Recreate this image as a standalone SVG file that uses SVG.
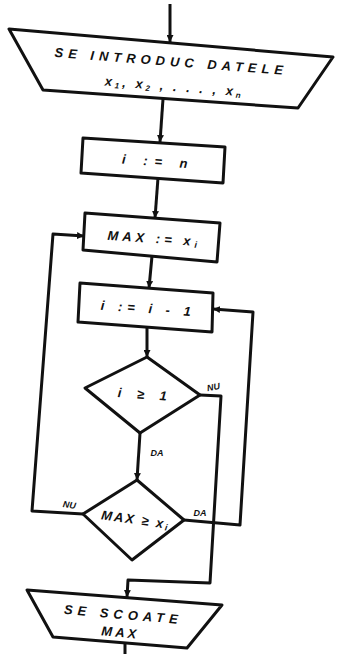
<svg xmlns="http://www.w3.org/2000/svg" width="337" height="654" viewBox="0 0 337 654">
<defs>
<style>
.shape{fill:#fff;stroke:#111;stroke-width:3;stroke-linejoin:round}
.conn{fill:none;stroke:#111;stroke-width:3;stroke-linejoin:round}
.t{font-family:"Liberation Sans",Arial,sans-serif;font-style:italic;font-weight:bold;fill:#111;font-size:13px;text-anchor:middle}
.lbl{font-family:"Liberation Sans",Arial,sans-serif;font-style:italic;font-weight:bold;fill:#111;font-size:9px;text-anchor:middle}
</style>
<marker id="arr" viewBox="0 0 8 8" refX="8" refY="4" markerWidth="7" markerHeight="7" markerUnits="userSpaceOnUse" orient="auto">
<path d="M0,0 L8,4 L0,8 Z" fill="#111"/>
</marker>
</defs>
<rect width="337" height="654" fill="#fff"/>
<g id="connectors">
<path class="conn" d="M170,4 L170,42" marker-end="url(#arr)"/>
<path class="conn" d="M163,99 L160,142" marker-end="url(#arr)"/>
<path class="conn" d="M158,178 L155,218" marker-end="url(#arr)"/>
<path class="conn" d="M152,256 L149,288" marker-end="url(#arr)"/>
<path class="conn" d="M147,327 L147,357" marker-end="url(#arr)"/>
<path class="conn" d="M140,433 L137,480" marker-end="url(#arr)"/>
<path class="conn" d="M83,514 L32,511 L53,234 L84,236" marker-end="url(#arr)"/>
<path class="conn" d="M184,520 L240,525 L253,312 L213,309" marker-end="url(#arr)"/>
<path class="conn" d="M200,395 L221,396 L210,583 L128,580 L127,597" marker-end="url(#arr)"/>
<path class="conn" d="M125,643 L125,654"/>
<text class="lbl" x="214" y="390" transform="rotate(-10 214 390)">NU</text>
<text class="lbl" x="157" y="456">DA</text>
<text class="lbl" x="69" y="508" transform="rotate(8 69 508)">NU</text>
<text class="lbl" x="200" y="516">DA</text>
</g>
<g id="input">
<polygon class="shape" points="9,29 333,57 298,108 43,90"/>
<text class="t" x="171" y="66" transform="rotate(4.5 171 66)" letter-spacing="5">SE INTRODUC DATELE</text>
<text class="t" x="174" y="91" transform="rotate(4.5 174 91)" letter-spacing="3">x<tspan font-size="8" dy="2">1</tspan><tspan dy="-2">, x</tspan><tspan font-size="8" dy="2">2</tspan><tspan dy="-2"> ,   .  .  .   , x</tspan><tspan font-size="8" dy="2">n</tspan></text>
</g>
<g id="init">
<polygon class="shape" points="83,138 225,147 223,183 81,173"/>
<text class="t" x="158" y="166" transform="rotate(4 158 166)" letter-spacing="7">i := n</text>
</g>
<g id="setmax">
<polygon class="shape" points="85,213 220,223 217,262 83,250"/>
<text class="t" x="154" y="243" transform="rotate(4 154 243)" letter-spacing="4">MAX := x<tspan font-size="9" dy="2">i</tspan></text>
</g>
<g id="decrement">
<polygon class="shape" points="80,283 213,293 212,332 78,322"/>
<text class="t" x="148" y="313" transform="rotate(4 148 313)" letter-spacing="5">i := i - 1</text>
</g>
<g id="cond1">
<polygon class="shape" points="147,357 200,395 140,433 85,388"/>
<text class="t" x="145" y="399" transform="rotate(4 145 399)" letter-spacing="6">i ≥ 1</text>
</g>
<g id="cond2">
<polygon class="shape" points="137,480 184,520 132,560 83,514"/>
<text class="t" x="135" y="524" transform="rotate(8 135 524)" font-size="12" letter-spacing="2">MAX ≥ x<tspan font-size="9" dy="2">i</tspan></text>
</g>
<g id="output">
<polygon class="shape" points="27,590 222,605 187,648 53,637"/>
<text class="t" x="123" y="619" transform="rotate(5 123 619)" letter-spacing="5">SE SCOATE</text>
<text class="t" x="120" y="637" transform="rotate(5 120 637)" letter-spacing="3">MAX</text>
</g>
</svg>
